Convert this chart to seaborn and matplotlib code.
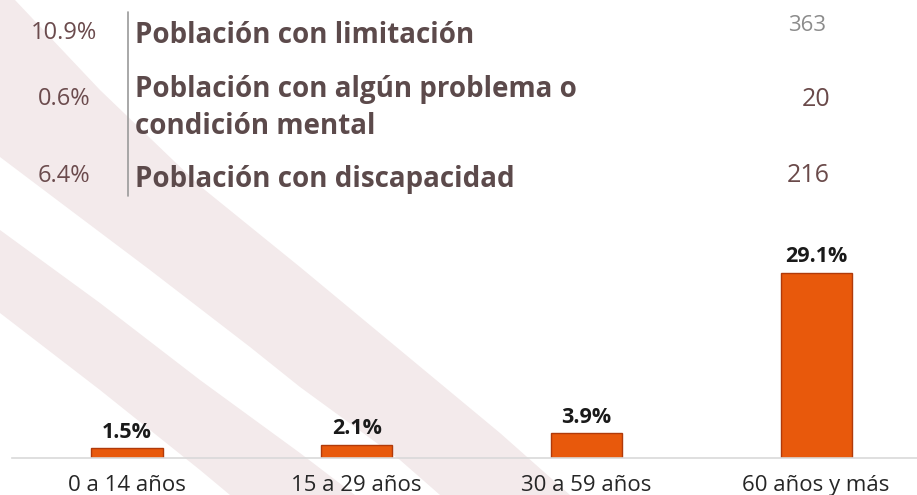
import matplotlib
matplotlib.use("Agg")
import matplotlib.pyplot as plt
from matplotlib.patches import Polygon
import numpy as np
import pandas as pd
import seaborn as sns

# data
grupos = ['0 a 14 años', '15 a 29 años', '30 a 59 años', '60 años y más']
porcentajes = [1.5, 2.1, 3.9, 29.1]

filas = ['Población con limitación',
         'Población con algún problema o',
         'condición mental',
         'Población con discapacidad']
filas_pct = ['10.9%', '0.6%', '6.4%']
filas_n = ['363', '20', '216']

sns.set_theme(style='white')
plt.rcParams['font.family'] = ['Open Sans', 'DejaVu Sans']

W, H = 917, 495
fig = plt.figure(figsize=(W / 100, H / 100), dpi=100)

# background axes in pixel coords (pink stripes + header text)
bg = fig.add_axes([0, 0, 1, 1], zorder=0)
bg.set_xlim(0, W)
bg.set_ylim(H, 0)
bg.axis('off')

pink = '#F3EAEB'
banda_a = [(0, 0), (15, 0), (100, 90), (200, 186), (300, 267), (400, 350),
           (500, 433), (570, 495), (440, 495), (400, 460), (300, 387),
           (250, 347), (150, 270), (57, 200), (0, 157)]
banda_b = [(0, 230), (100, 303), (200, 380), (300, 453), (355, 495),
           (230, 495), (200, 470), (100, 390), (0, 313)]
for b in (banda_a, banda_b):
    bg.add_patch(Polygon(b, closed=True, facecolor=pink, edgecolor='none'))

# header block
txt = '#5C4A4B'
for y, s in zip([39, 105, 182], filas_pct):
    bg.text(64, y, s, ha='center', va='baseline', fontsize=17, color='#6B4B4D')
for y, s in zip([43, 97, 134, 187], filas):
    bg.text(135, y, s, ha='left', va='baseline', fontsize=20,
            fontweight='bold', color=txt)
bg.plot([128, 128], [12, 196], color='#9A9A9A', lw=1.2)

bg.text(807, 31, filas_n[0], ha='center', va='baseline', fontsize=16,
        color='#8C8C8C')
bg.text(830, 106, filas_n[1], ha='right', va='baseline', fontsize=18,
        color='#6A4A4A')
bg.text(830, 182, filas_n[2], ha='right', va='baseline', fontsize=18,
        color='#6A4A4A')

# bar chart
ax = fig.add_axes([12 / W, (H - 458) / H, (W - 12) / W, 228 / H], zorder=1)
ax.patch.set_alpha(0)
df = pd.DataFrame({'grupo': grupos, 'pct': porcentajes})
sns.barplot(data=df, x='grupo', y='pct', ax=ax, color='#E8590C',
            saturation=1, width=0.31, edgecolor='#B03A0A', linewidth=1)
ax.set_xlim(-0.5007, 3.439)
ax.set_ylim(0, 35.85)
for p, v in zip(ax.patches, porcentajes):
    ax.annotate(f'{v}%', (p.get_x() + p.get_width() / 2, p.get_height()),
                xytext=(0, 4), textcoords='offset points', ha='center',
                va='bottom', fontsize=15.5, fontweight='bold', color='#1A1A1A')

sns.despine(ax=ax, left=True)
ax.spines['bottom'].set_color('#D9D9D9')
ax.spines['bottom'].set_linewidth(1.2)
ax.set_yticks([])
ax.set_xlabel('')
ax.set_ylabel('')
ax.tick_params(axis='x', length=0, pad=12, labelsize=16, labelcolor='#262626')

fig.savefig('out.png', dpi=100)
